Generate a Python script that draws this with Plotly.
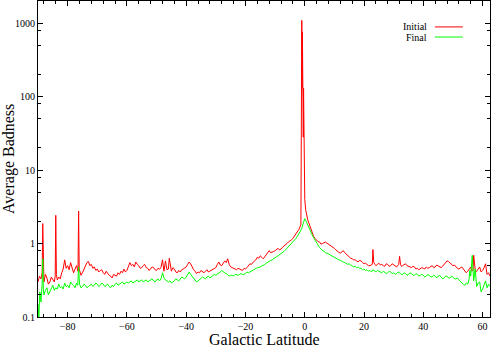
import plotly.graph_objects as go

# (galactic latitude, average badness)
initial_pts = [
    (-90, 0.30), (-89.5, 0.36), (-89, 0.33), (-88.6, 0.40), (-88.4, 1.87), (-88.2, 0.35), (-88, 0.30),
    (-87.5, 0.38), (-87, 0.34), (-86.5, 0.28), (-86, 0.30), (-85.5, 0.35), (-85, 0.33), (-84.5, 0.30),
    (-84.2, 0.36), (-84, 2.42), (-83.8, 0.38), (-83.5, 0.32), (-83, 0.35), (-82.5, 0.33), (-82, 0.40),
    (-81.5, 0.45), (-81, 0.60), (-80.5, 0.46), (-80, 0.50), (-79.5, 0.44), (-79, 0.55), (-78.5, 0.47),
    (-78, 0.40), (-77.5, 0.45), (-77, 0.50), (-76.5, 0.42), (-76.3, 2.76), (-76.1, 0.45), (-75.5, 0.37),
    (-75, 0.40), (-74.5, 0.45), (-74, 0.50), (-73.5, 0.55), (-73, 0.57), (-72.5, 0.50), (-72, 0.52),
    (-71.5, 0.46), (-71, 0.48), (-70.5, 0.43), (-70, 0.45), (-69.5, 0.41), (-69, 0.43), (-68.5, 0.44),
    (-68, 0.40), (-67.5, 0.38), (-67, 0.42), (-66.5, 0.39), (-66, 0.37), (-65.5, 0.36), (-65, 0.34),
    (-64.5, 0.38), (-64, 0.37), (-63.5, 0.36), (-63, 0.40), (-62.5, 0.38), (-62, 0.42), (-61.5, 0.40),
    (-61, 0.45), (-60.5, 0.41), (-60, 0.43), (-59.5, 0.48), (-59, 0.55), (-58.5, 0.50), (-58, 0.52),
    (-57.5, 0.48), (-57, 0.56), (-56.5, 0.52), (-56, 0.50), (-55.5, 0.46), (-55, 0.47), (-54.5, 0.50),
    (-54, 0.52), (-53.5, 0.47), (-53, 0.46), (-52.5, 0.43), (-52, 0.45), (-51.5, 0.48), (-51, 0.47),
    (-50.5, 0.44), (-50, 0.43), (-49.5, 0.46), (-49, 0.45), (-48.5, 0.47), (-48, 0.60), (-47.5, 0.42),
    (-47, 0.58), (-46.5, 0.44), (-46, 0.45), (-45.7, 0.63), (-45, 0.42), (-44.5, 0.47), (-44, 0.45),
    (-43.5, 0.41), (-43, 0.40), (-42.5, 0.43), (-42, 0.41), (-41.5, 0.44), (-41, 0.45), (-40.5, 0.47),
    (-40, 0.48), (-39.5, 0.52), (-39, 0.56), (-38.5, 0.53), (-38, 0.48), (-37.5, 0.44), (-37, 0.42),
    (-36.5, 0.39), (-36, 0.41), (-35.5, 0.40), (-35, 0.43), (-34.5, 0.41), (-34, 0.40), (-33.5, 0.42),
    (-33, 0.44), (-32.5, 0.41), (-32, 0.42), (-31.5, 0.43), (-31, 0.44), (-30.5, 0.46), (-30, 0.47),
    (-29.5, 0.52), (-29, 0.56), (-28.5, 0.51), (-28, 0.50), (-27.5, 0.54), (-27, 0.58), (-26.5, 0.55),
    (-26, 0.62), (-25.5, 0.52), (-25, 0.48), (-24.5, 0.47), (-24, 0.46), (-23.5, 0.44), (-23, 0.44),
    (-22.5, 0.46), (-22, 0.45), (-21.5, 0.44), (-21, 0.43), (-20.5, 0.46), (-20, 0.45), (-19.5, 0.47),
    (-19, 0.50), (-18.5, 0.53), (-18, 0.52), (-17.5, 0.56), (-17, 0.58), (-16.5, 0.60), (-16, 0.65),
    (-15.5, 0.63), (-15, 0.68), (-14.5, 0.65), (-14, 0.62), (-13.5, 0.66), (-13, 0.70), (-12.5, 0.76),
    (-12, 0.80), (-11.5, 0.75), (-11, 0.76), (-10.5, 0.78), (-10, 0.80), (-9.5, 0.84), (-9, 0.86),
    (-8.5, 0.82), (-8, 0.84), (-7.5, 0.89), (-7, 0.92), (-6.5, 0.97), (-6, 1.00), (-5.5, 1.05),
    (-5, 1.08), (-4.5, 1.12), (-4, 1.18), (-3.5, 1.26), (-3, 1.35), (-2.5, 1.44), (-2, 1.55),
    (-1.3, 1.80), (-1.1, 280), (-1.0, 1090), (-0.9, 130), (-0.8, 760), (-0.7, 70), (-0.6, 530),
    (-0.5, 28), (-0.4, 130), (-0.3, 16), (-0.1, 5), (0.0, 4), (0.3, 2.9), (0.6, 2.4), (1, 2.1),
    (1.5, 1.85), (2, 1.6), (2.5, 1.4), (3, 1.25), (3.5, 1.17), (4, 1.12), (4.5, 1.06), (5, 1.05),
    (5.5, 0.98), (6, 1.00), (6.5, 1.03), (7, 1.05), (7.5, 1.01), (8, 0.98), (8.5, 0.95), (9, 0.92),
    (9.5, 0.90), (10, 0.86), (10.5, 0.82), (11, 0.80), (11.5, 0.76), (12, 0.74), (12.5, 0.77),
    (13, 0.80), (13.5, 0.75), (14, 0.72), (14.5, 0.68), (15, 0.65), (15.5, 0.63), (16, 0.62),
    (16.5, 0.60), (17, 0.60), (17.5, 0.57), (18, 0.56), (18.5, 0.59), (19, 0.58), (19.5, 0.55),
    (20, 0.53), (20.5, 0.54), (21, 0.52), (21.5, 0.50), (22, 0.50), (22.8, 0.52), (23, 0.83),
    (23.3, 0.55), (23.7, 0.52), (24, 0.50), (24.5, 0.52), (25, 0.54), (25.5, 0.51), (26, 0.52),
    (26.5, 0.50), (27, 0.49), (27.5, 0.53), (28, 0.52), (28.5, 0.49), (29, 0.50), (29.5, 0.53),
    (30, 0.51), (30.5, 0.49), (31, 0.48), (31.7, 0.52), (32, 0.67), (32.3, 0.52), (32.6, 0.49),
    (33, 0.50), (33.5, 0.52), (34, 0.53), (34.5, 0.50), (35, 0.49), (35.5, 0.47), (36, 0.47),
    (36.5, 0.49), (37, 0.48), (37.5, 0.45), (38, 0.46), (38.5, 0.44), (39, 0.45), (39.5, 0.47),
    (40, 0.46), (40.5, 0.45), (41, 0.48), (41.5, 0.46), (42, 0.47), (42.5, 0.49), (43, 0.50),
    (43.5, 0.47), (44, 0.48), (44.5, 0.51), (45, 0.50), (45.5, 0.48), (46, 0.47), (46.5, 0.49),
    (47, 0.52), (47.5, 0.55), (48, 0.58), (48.5, 0.57), (49, 0.55), (49.5, 0.52), (50, 0.50),
    (50.5, 0.51), (51, 0.48), (51.5, 0.46), (52, 0.45), (52.5, 0.47), (53, 0.48), (53.5, 0.45),
    (54, 0.43), (54.5, 0.40), (55, 0.42), (55.5, 0.46), (56, 0.48), (56.4, 0.42), (56.8, 0.45),
    (57, 0.69), (57.3, 0.45), (57.6, 0.40), (58, 0.42), (58.5, 0.46), (59, 0.48), (59.5, 0.41),
    (60, 0.43), (60.5, 0.47), (61, 0.53), (61.5, 0.38), (62, 0.40), (62.5, 0.36),
]

final_pts = [
    (-90, 0.15), (-89.7, 0.10), (-89.4, 0.22), (-89, 0.16), (-88.6, 0.28), (-88.4, 0.62), (-88.2, 0.24),
    (-88, 0.20), (-87.5, 0.23), (-87, 0.25), (-86.5, 0.20), (-86, 0.22), (-85.5, 0.24), (-85, 0.27),
    (-84.5, 0.23), (-84, 0.25), (-83.5, 0.24), (-83, 0.28), (-82.5, 0.25), (-82, 0.26), (-81.5, 0.24),
    (-81, 0.29), (-80.5, 0.26), (-80, 0.27), (-79.5, 0.25), (-79, 0.30), (-78.5, 0.28), (-78, 0.27),
    (-77.5, 0.25), (-77, 0.29), (-76.6, 0.27), (-76.3, 0.48), (-76, 0.28), (-75.5, 0.25), (-75, 0.26),
    (-74.5, 0.28), (-74, 0.27), (-73.5, 0.25), (-73, 0.26), (-72.5, 0.27), (-72, 0.28), (-71.5, 0.26),
    (-71, 0.27), (-70.5, 0.29), (-70, 0.28), (-69.5, 0.26), (-69, 0.27), (-68.5, 0.29), (-68, 0.28),
    (-67.5, 0.26), (-67, 0.27), (-66.5, 0.28), (-66, 0.26), (-65.5, 0.25), (-65, 0.27), (-64.5, 0.26),
    (-64, 0.28), (-63.5, 0.29), (-63, 0.27), (-62.5, 0.28), (-62, 0.29), (-61.5, 0.30), (-61, 0.28),
    (-60.5, 0.29), (-60, 0.30), (-59.5, 0.29), (-59, 0.30), (-58.5, 0.31), (-58, 0.29), (-57.5, 0.30),
    (-57, 0.31), (-56.5, 0.32), (-56, 0.30), (-55.5, 0.31), (-55, 0.32), (-54.5, 0.30), (-54, 0.31),
    (-53.5, 0.32), (-53, 0.30), (-52.5, 0.31), (-52, 0.32), (-51.5, 0.33), (-51, 0.31), (-50.5, 0.30),
    (-50, 0.32), (-49.5, 0.33), (-49, 0.31), (-48.5, 0.33), (-48, 0.40), (-47.5, 0.34), (-47, 0.32),
    (-46.5, 0.31), (-46, 0.30), (-45.5, 0.31), (-45, 0.29), (-44.5, 0.30), (-44, 0.31), (-43.5, 0.33),
    (-43, 0.32), (-42.5, 0.31), (-42, 0.33), (-41.5, 0.35), (-41, 0.34), (-40.5, 0.33), (-40, 0.35),
    (-39.5, 0.38), (-39, 0.41), (-38.5, 0.38), (-38, 0.36), (-37.5, 0.33), (-37, 0.32), (-36.5, 0.30),
    (-36, 0.31), (-35.5, 0.32), (-35, 0.33), (-34.5, 0.35), (-34, 0.34), (-33.5, 0.33), (-33, 0.35),
    (-32.5, 0.36), (-32, 0.34), (-31.5, 0.35), (-31, 0.36), (-30.5, 0.38), (-30, 0.37), (-29.5, 0.38),
    (-29, 0.39), (-28.5, 0.41), (-28, 0.43), (-27.5, 0.41), (-27, 0.40), (-26.5, 0.39), (-26, 0.38),
    (-25.5, 0.36), (-25, 0.37), (-24.5, 0.37), (-24, 0.36), (-23.5, 0.38), (-23, 0.37), (-22.5, 0.37),
    (-22, 0.38), (-21.5, 0.39), (-21, 0.38), (-20.5, 0.38), (-20, 0.39), (-19.5, 0.41), (-19, 0.40),
    (-18.5, 0.41), (-18, 0.42), (-17.5, 0.43), (-17, 0.44), (-16.5, 0.46), (-16, 0.47), (-15.5, 0.47),
    (-15, 0.48), (-14.5, 0.50), (-14, 0.51), (-13.5, 0.52), (-13, 0.54), (-12.5, 0.56), (-12, 0.58),
    (-11.5, 0.59), (-11, 0.60), (-10.5, 0.62), (-10, 0.64), (-9.5, 0.66), (-9, 0.68), (-8.5, 0.70),
    (-8, 0.72), (-7.5, 0.75), (-7, 0.78), (-6.5, 0.82), (-6, 0.86), (-5.5, 0.90), (-5, 0.94),
    (-4.5, 0.99), (-4, 1.04), (-3.5, 1.10), (-3, 1.17), (-2.5, 1.25), (-2, 1.35), (-1.5, 1.47),
    (-1, 1.60), (-0.5, 1.90), (0, 2.18), (0.5, 2.00), (1, 1.77), (1.5, 1.60), (2, 1.44), (2.5, 1.31),
    (3, 1.20), (3.5, 1.10), (4, 1.02), (4.5, 0.95), (5, 0.88), (5.5, 0.84), (6, 0.80), (6.5, 0.77),
    (7, 0.75), (7.5, 0.74), (8, 0.72), (8.5, 0.70), (9, 0.68), (9.5, 0.66), (10, 0.64), (10.5, 0.62),
    (11, 0.61), (11.5, 0.60), (12, 0.59), (12.5, 0.57), (13, 0.56), (13.5, 0.55), (14, 0.54),
    (14.5, 0.52), (15, 0.53), (15.5, 0.51), (16, 0.50), (16.5, 0.48), (17, 0.49), (17.5, 0.47),
    (18, 0.48), (18.5, 0.46), (19, 0.46), (19.5, 0.44), (20, 0.45), (20.5, 0.43), (21, 0.44),
    (21.5, 0.42), (22, 0.43), (22.5, 0.41), (23, 0.44), (23.5, 0.42), (24, 0.41), (24.5, 0.43),
    (25, 0.42), (25.5, 0.40), (26, 0.40), (26.5, 0.42), (27, 0.41), (27.5, 0.39), (28, 0.40),
    (28.5, 0.42), (29, 0.41), (29.5, 0.39), (30, 0.40), (30.5, 0.38), (31, 0.39), (31.5, 0.41),
    (32, 0.40), (32.5, 0.38), (33, 0.38), (33.5, 0.40), (34, 0.39), (34.5, 0.37), (35, 0.38),
    (35.5, 0.40), (36, 0.39), (36.5, 0.37), (37, 0.37), (37.5, 0.39), (38, 0.38), (38.5, 0.36),
    (39, 0.37), (39.5, 0.38), (40, 0.37), (40.5, 0.35), (41, 0.36), (41.5, 0.38), (42, 0.37),
    (42.5, 0.35), (43, 0.35), (43.5, 0.37), (44, 0.36), (44.5, 0.34), (45, 0.36), (45.5, 0.37),
    (46, 0.35), (46.5, 0.33), (47, 0.34), (47.5, 0.36), (48, 0.36), (48.5, 0.34), (49, 0.34),
    (49.5, 0.36), (50, 0.35), (50.5, 0.33), (51, 0.33), (51.5, 0.34), (52, 0.32), (52.5, 0.30),
    (53, 0.29), (53.5, 0.28), (54, 0.27), (54.5, 0.29), (55, 0.28), (55.4, 0.32), (55.7, 0.43),
    (56, 0.36), (56.5, 0.69), (57, 0.31), (57.5, 0.45), (58, 0.26), (58.5, 0.29), (59, 0.30),
    (59.5, 0.22), (60, 0.24), (60.5, 0.27), (61, 0.31), (61.5, 0.25), (62, 0.28), (62.5, 0.26),
]

x_ticks = [-80, -60, -40, -20, 0, 20, 40, 60]
y_ticks = [0.1, 1, 10, 100, 1000]
y_labels = ["0.1", "1", "10", "100", "1000"]
y_minor = [0.2, 0.5, 0.8, 2, 5, 8, 20, 50, 80, 200, 500, 800]

serif = "Liberation Serif, Times New Roman, serif"

fig = go.Figure()
for name, pts, color in [("Initial", initial_pts, "#ff0000"), ("Final", final_pts, "#00ff00")]:
    xs, ys = zip(*pts)
    fig.add_trace(go.Scatter(x=list(xs), y=list(ys), mode="lines", name=name,
                             line=dict(color=color, width=1)))

fig.update_layout(
    width=491, height=348,
    margin=dict(l=38, r=1, t=1, b=31, autoexpand=False),
    paper_bgcolor="white", plot_bgcolor="white",
    showlegend=False,
    font=dict(family=serif, color="black", size=10),
)
fig.update_xaxes(
    range=[-90, 62.5], tickvals=x_ticks, automargin=False,
    ticks="inside", ticklen=5, tickcolor="black", mirror="ticks",
    showline=True, linecolor="black", linewidth=1, showgrid=False, zeroline=False,
    minor=dict(dtick=4, tick0=0, ticks="inside", ticklen=3, tickcolor="black"),
    tickfont=dict(size=10, family=serif),
)
fig.update_yaxes(
    type="log", range=[-1, 3.301], tickvals=y_ticks, ticktext=y_labels,
    automargin=False,
    ticks="inside", ticklen=5, tickcolor="black", mirror="ticks",
    showline=True, linecolor="black", linewidth=1, showgrid=False, zeroline=False,
    minor=dict(tickvals=y_minor, ticks="inside", ticklen=3, tickcolor="black"),
    tickfont=dict(size=10, family=serif),
)

# axis titles placed like gnuplot's
fig.add_annotation(x=0.5, y=0, xref="paper", yref="paper", text="Galactic Latitude", showarrow=False,
                   xanchor="center", yanchor="top", yshift=-12, font=dict(size=16, family=serif))
fig.add_annotation(x=0, y=0.5, xref="paper", yref="paper", text="Average Badness", showarrow=False,
                   textangle=-90, xanchor="center", yanchor="middle", xshift=-29,
                   font=dict(size=16, family=serif))

# gnuplot-style key: label on the left, line sample on the right
for label, color, yp in [("Initial", "#ff0000", 0.918), ("Final", "#00ff00", 0.886)]:
    fig.add_annotation(x=0.866, y=yp, xref="paper", yref="paper", text=label, showarrow=False,
                       xanchor="right", yanchor="middle", font=dict(size=10, family=serif))
    fig.add_shape(type="line", xref="paper", yref="paper", x0=0.878, x1=0.940, y0=yp, y1=yp,
                  line=dict(color=color, width=1))

# the page's default body margin would shift the figure; drop it
fig.write_html("out.html", config={"displayModeBar": False},
               post_script="document.body.style.margin = '0';")
